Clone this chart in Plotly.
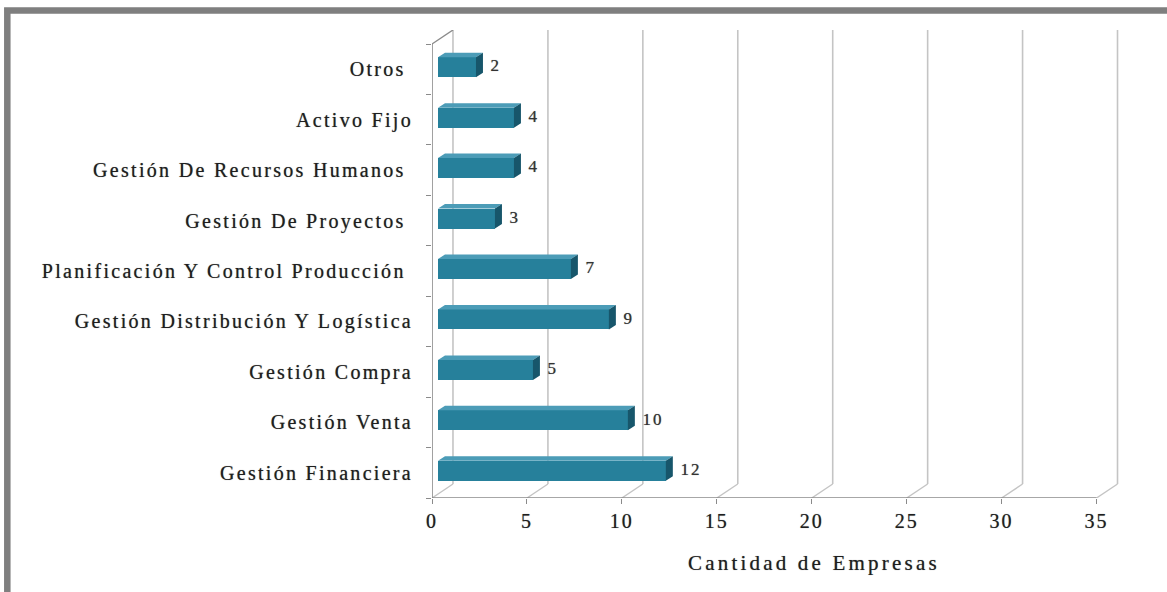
import plotly.graph_objects as go

# ---- data -------------------------------------------------------------
categories = [
    "Gestión Financiera",
    "Gestión Venta",
    "Gestión Compra",
    "Gestión Distribución Y Logística",
    "Planificación Y Control Producción\u00a0",
    "Gestión De Proyectos\u00a0",
    "Gestión De Recursos Humanos\u00a0",
    "Activo Fijo",
    "Otros\u00a0",
]
empresas = [12, 10, 5, 9, 7, 3, 4, 4, 2]
x_ticks = [0, 5, 10, 15, 20, 25, 30, 35]
x_title = "Cantidad de Empresas"

# ---- geometry ---------------------------------------------------------
W, H = 1167, 592
ML, MR, MT, MB = 432, 41.5, 30, 94
PLOT_W = W - ML - MR
PLOT_H = H - MT - MB
PX_X = 19.0                      # pixels per company on the x axis
XMAX = PLOT_W / PX_X
N = len(categories)
DEPTH_PX = (21.0, 14.0)          # oblique offset of the back wall
YMAX = N / (1 - DEPTH_PX[1] / PLOT_H)
PX_Y = PLOT_H / YMAX
DX = DEPTH_PX[0] / PX_X
DY = DEPTH_PX[1] / PX_Y

BAR_DX = 6.0 / PX_X              # bar front face sits slightly inside the box
BAR_DY = 2.0 / PX_Y
BAR_W = 20.0 / PX_Y
TOP_DX = 7.0 / PX_X              # bar depth
TOP_DY = 4.5 / PX_Y

C_FRONT = "#26809b"
C_TOP = "#4c9cb7"
C_SIDE = "#17566b"
GRID = "#c4c4c4"
AXIS = "#8a8a8a"
TXT = "#1e1e1e"
SERIF = "Liberation Serif, Times New Roman, serif"
HALO = "0px 0px 0.8px rgba(0,0,0,0.55)"


def spaced(s, ls):
    return f'<span style="letter-spacing:{ls}px">{s}</span>'


def paper(px, py):
    return (px - ML) / PLOT_W, 1 - (py - MT) / PLOT_H


fig = go.Figure()

# ---- walls: back gridlines, floor diagonals ---------------------------
shapes = []
for v in x_ticks:
    shapes.append(dict(type="line", x0=v + DX, x1=v + DX, y0=DY, y1=YMAX,
                       xref="x", yref="y", layer="below",
                       line=dict(color=GRID, width=1.6)))
    shapes.append(dict(type="line", x0=v, x1=v + DX, y0=0, y1=DY,
                       xref="x", yref="y", layer="below",
                       line=dict(color=GRID, width=1.4)))
# top edge of the side wall
shapes.append(dict(type="line", x0=0, x1=DX, y0=N, y1=YMAX, xref="x", yref="y",
                   layer="below", line=dict(color=AXIS, width=1.4)))
# front axes
shapes.append(dict(type="line", x0=0, x1=0, y0=0, y1=N, xref="x", yref="y",
                   layer="above", line=dict(color=AXIS, width=1.6)))
shapes.append(dict(type="line", x0=0, x1=x_ticks[-1], y0=0, y1=0, xref="x", yref="y",
                   layer="above", line=dict(color=AXIS, width=1.6)))

# outer frame
fx0, fy0 = paper(7, 10.5)
fx1, fy1 = paper(W + 20, H + 20)
shapes.append(dict(type="rect", x0=fx0, x1=fx1, y0=fy0, y1=fy1, xref="paper",
                   yref="paper", layer="above", line=dict(color="#7f7f7f", width=6.5)))

# ---- bars -------------------------------------------------------------
ycent = [i + 0.5 + BAR_DY for i in range(N)]

fig.add_trace(go.Bar(
    orientation="h", y=ycent, x=empresas, base=BAR_DX, width=BAR_W,
    marker=dict(color=C_FRONT, line=dict(width=0)), hoverinfo="skip",
))

top_x, top_y, side_x, side_y = [], [], [], []
for yc, v in zip(ycent, empresas):
    yt, yb = yc + BAR_W / 2, yc - BAR_W / 2
    x0, x1 = BAR_DX, BAR_DX + v
    top_x += [x0, x1, x1 + TOP_DX, x0 + TOP_DX, x0, None]
    top_y += [yt, yt, yt + TOP_DY, yt + TOP_DY, yt, None]
    side_x += [x1, x1 + TOP_DX, x1 + TOP_DX, x1, x1, None]
    side_y += [yb, yb + TOP_DY, yt + TOP_DY, yt, yb, None]

fig.add_trace(go.Scatter(x=top_x, y=top_y, mode="lines", fill="toself",
                         fillcolor=C_TOP, line=dict(width=0), hoverinfo="skip"))
fig.add_trace(go.Scatter(x=side_x, y=side_y, mode="lines", fill="toself",
                         fillcolor=C_SIDE, line=dict(width=0), hoverinfo="skip"))

# value labels
fig.add_trace(go.Scatter(
    x=[BAR_DX + v + TOP_DX + 0.4 for v in empresas], y=ycent,
    mode="text", text=[spaced(str(v), 2) for v in empresas],
    textposition="middle right",
    textfont=dict(family=SERIF, size=17, color="#333333", shadow=HALO),
    hoverinfo="skip",
))

# axis title, centred over the box including its back wall
tx, ty = paper(0, 563)
fig.add_annotation(
    x=(814 - ML) / PX_X, y=ty, xref="x", yref="paper", showarrow=False,
    text=spaced(x_title, 3.2), xanchor="center", yanchor="middle",
    font=dict(family=SERIF, size=21, color=TXT, shadow=HALO),
)

fig.update_layout(
    width=W, height=H, showlegend=False,
    margin=dict(l=ML, r=MR, t=MT, b=MB, autoexpand=False),
    paper_bgcolor="white", plot_bgcolor="white",
    shapes=shapes,
    xaxis=dict(
        range=[0, XMAX], showgrid=False, zeroline=False, showline=False,
        tickmode="array", tickvals=x_ticks,
        ticktext=[spaced(str(t), 2) for t in x_ticks],
        ticks="outside", ticklen=5, tickwidth=1.4, tickcolor=AXIS,
        tickfont=dict(family=SERIF, size=20, color=TXT, shadow=HALO),
        automargin=False, fixedrange=True,
    ),
    yaxis=dict(
        range=[0, YMAX], showgrid=False, zeroline=False, showline=False,
        tickmode="array", tickvals=[i + 0.5 for i in range(N)],
        ticktext=[spaced(c, 2.3) for c in categories],
        ticks="", ticklabelstandoff=18,
        tickfont=dict(family=SERIF, size=20, color=TXT, shadow=HALO),
        minor=dict(tickmode="array", tickvals=list(range(N + 1)),
                   ticks="outside", ticklen=5, tickwidth=1.4, tickcolor=AXIS),
        automargin=False, fixedrange=True,
    ),
    bargap=0,
)

fig.write_html("out.html")
